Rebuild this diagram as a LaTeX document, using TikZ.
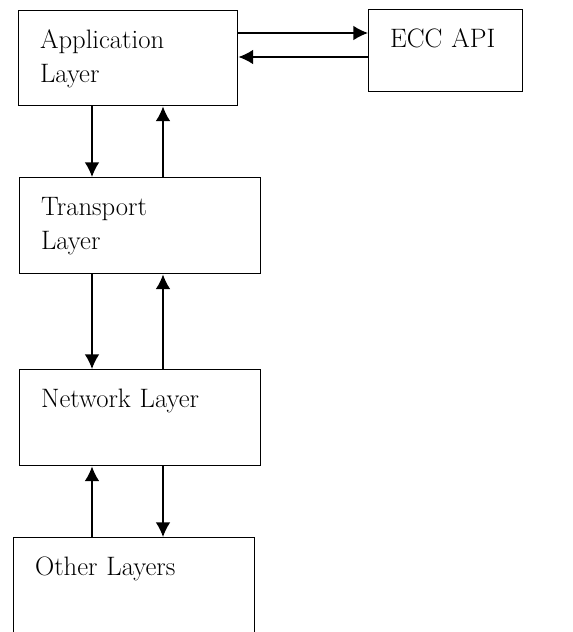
\documentclass[tikz,border=0pt]{standalone}
\usetikzlibrary{arrows.meta}

\tikzset{
    layer/.style={draw, line width=1.1pt, anchor=north west, align=left,
        inner xsep=16pt, inner ysep=0pt, text height=28.5pt,
        font=\fontsize{20}{25.5}\selectfont},
}

\begin{document}
\begin{tikzpicture}[x=0.75pt, y=-0.75pt, line width=1.1pt,
        >={Latex[length=11pt, width=11pt]}]
        \clip (0,0) rectangle (573,632);

        \node[layer, text width=132.25pt, text depth=42.75pt]
        (app) at (18,10) {Application\\Layer};
        \node[layer, text width=83.5pt, text depth=33pt]
        (ecc) at (368,9) {ECC API};
        \node[layer, text width=148.75pt, text depth=43.5pt]
        (trans) at (19,177) {Transport\\Layer};
        \node[layer, text width=148.75pt, text depth=43.5pt]
        (net) at (19,369) {Network Layer};
        % bottom box runs past the lower edge
        \node[layer, text width=148.75pt, text depth=84pt]
        (other) at (13,537) {Other Layers};

        \draw[->] (app.east |- 0,33) -- (ecc.west |- 0,33);
        \draw[->] (ecc.west |- 0,57) -- (app.east |- 0,57);

        \draw[->] (app.south -| 92,0) -- (trans.north -| 92,0);
        \draw[->] (trans.north -| 163,0) -- (app.south -| 163,0);
        \draw[->] (trans.south -| 92,0) -- (net.north -| 92,0);
        \draw[->] (net.north -| 163,0) -- (trans.south -| 163,0);
        \draw[->] (other.north -| 92,0) -- (net.south -| 92,0);
        \draw[->] (net.south -| 163,0) -- (other.north -| 163,0);
    \end{tikzpicture}
\end{document}
